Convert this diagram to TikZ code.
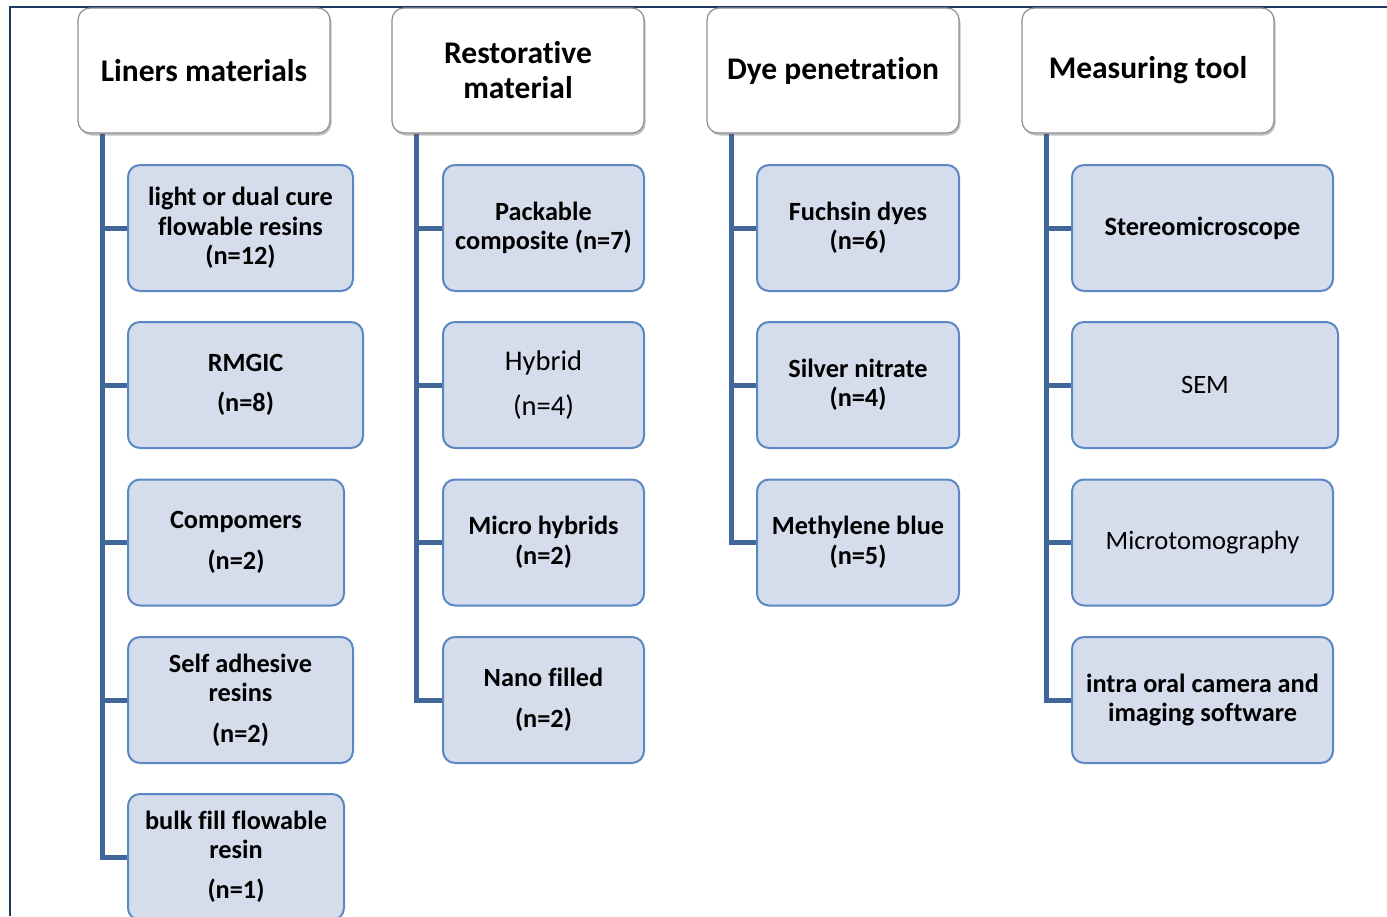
\documentclass[tikz,border=0pt]{standalone}
\usepackage{fontspec}
\setmainfont{Carlito}[Ligatures=CommonOff]
\usetikzlibrary{shadows,backgrounds}
\definecolor{conncol}{HTML}{41679A}
\definecolor{boxfill}{HTML}{D5DCEB}
\definecolor{boxline}{HTML}{5B87C2}
\definecolor{headline}{HTML}{8E8E8E}
\definecolor{framecol}{HTML}{1F3864}
\begin{document}
\begin{tikzpicture}[x=1pt,y=-1pt,
 head/.style={draw=headline, line width=1.2pt, fill=white, rounded corners=12pt,
   minimum width=252pt, minimum height=125pt, align=center, inner sep=0pt,
   font=\fontsize{31.5}{35}\selectfont\bfseries,
   drop shadow={shadow xshift=1.5pt, shadow yshift=-2.5pt, opacity=0.35, fill=black!70}},
 child/.style={draw=boxline, line width=2pt, fill=boxfill, rounded corners=12pt,
   minimum height=126pt, align=center, inner sep=0pt,
   font=\fontsize{26.3}{29.5}\selectfont\bfseries},
 reg/.style={font=\fontsize{26.5}{29.5}\selectfont},
 conn/.style={draw=conncol, line width=5pt},
]
\useasboundingbox (0,0) rectangle (1387,916);
\draw[framecol, line width=1.5pt] (10,916) -- (10,7) -- (1387,7);

% headers
\node[head] (h1) at (204,70.5) {Liners materials};
\node[head] (h2) at (518,70.5) {Restorative\\material};
\node[head] (h3) at (833,70.5) {Dye penetration};
\node[head] (h4) at (1148,70.5) {Measuring tool};

% column 1
\node[child, minimum width=225pt] (c11) at (240.5,228) {light or dual cure\\flowable resins\\(n=12)};
\node[child, minimum width=235pt] (c12) at (245.5,385) {RMGIC\\[10.5pt](n=8)};
\node[child, minimum width=216pt] (c13) at (236,542.5) {Compomers\\[11pt](n=2)};
\node[child, minimum width=225pt] (c14) at (240.5,700) {Self adhesive\\resins\\[11pt](n=2)};
\node[child, minimum width=216pt] (c15) at (236,857) {bulk fill flowable\\resin\\[10.5pt](n=1)};

% column 2
\node[child, minimum width=201pt] (c21) at (543.5,228) {Packable\\composite (n=7)};
\node[child, minimum width=201pt, font=\fontsize{28.5}{31}\selectfont] (c22) at (543.5,385) {Hybrid\\[14pt](n=4)};
\node[child, minimum width=201pt] (c23) at (543.5,542.5) {Micro hybrids\\(n=2)};
\node[child, minimum width=201pt] (c24) at (543.5,700) {Nano filled\\[11.5pt](n=2)};

% column 3
\node[child, minimum width=202pt] (c31) at (858,228) {Fuchsin dyes\\(n=6)};
\node[child, minimum width=202pt] (c32) at (858,385) {Silver nitrate\\(n=4)};
\node[child, minimum width=202pt] (c33) at (858,542.5) {Methylene blue\\(n=5)};

% column 4
\node[child, minimum width=261pt] (c41) at (1202.5,228) {Stereomicroscope};
\node[child, minimum width=266pt, reg] (c42) at (1205,385) {SEM};
\node[child, minimum width=261pt, reg] (c43) at (1202.5,542.5) {Microtomography};
\node[child, minimum width=261pt] (c44) at (1202.5,700) {intra oral camera and\\imaging software};

% connectors
\coordinate (v1) at ([xshift=25pt]h1.south west);
\coordinate (v2) at ([xshift=25pt]h2.south west);
\coordinate (v3) at ([xshift=25pt]h3.south west);
\coordinate (v4) at ([xshift=25pt]h4.south west);
\begin{scope}[on background layer]
\draw[conn] (v1) |- (c15.west);
\draw[conn] (c11.west -| v1) -- (c11.west);
\draw[conn] (c12.west -| v1) -- (c12.west);
\draw[conn] (c13.west -| v1) -- (c13.west);
\draw[conn] (c14.west -| v1) -- (c14.west);
\draw[conn] (v2) |- (c24.west);
\draw[conn] (c21.west -| v2) -- (c21.west);
\draw[conn] (c22.west -| v2) -- (c22.west);
\draw[conn] (c23.west -| v2) -- (c23.west);
\draw[conn] (v3) |- (c33.west);
\draw[conn] (c31.west -| v3) -- (c31.west);
\draw[conn] (c32.west -| v3) -- (c32.west);
\draw[conn] (v4) |- (c44.west);
\draw[conn] (c41.west -| v4) -- (c41.west);
\draw[conn] (c42.west -| v4) -- (c42.west);
\draw[conn] (c43.west -| v4) -- (c43.west);
\end{scope}
\end{tikzpicture}
\end{document}
